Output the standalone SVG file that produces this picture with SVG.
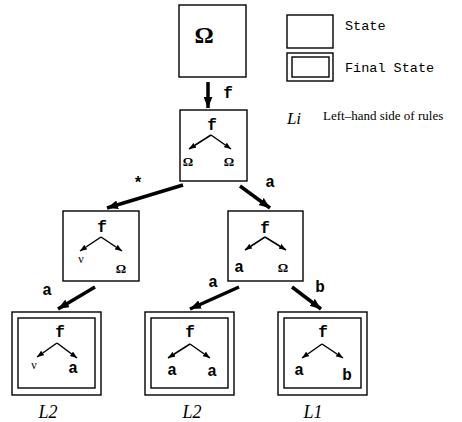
<svg xmlns="http://www.w3.org/2000/svg" width="462" height="422" viewBox="0 0 462 422">
  <style>
    .box { fill: #fff; stroke: #000; stroke-width: 1.4; }
    .sym { font-family: "Liberation Mono", "DejaVu Sans Mono", monospace; font-weight: bold; font-size: 16px; fill: #000; text-anchor: middle; }
    .om { font-family: "Liberation Serif", "DejaVu Serif", serif; font-weight: bold; font-size: 13px; fill: #000; text-anchor: middle; }
    .nu { font-family: "Liberation Serif", "DejaVu Serif", serif; font-size: 12px; fill: #000; text-anchor: middle; }
    .lab { font-family: "Liberation Serif", "DejaVu Serif", serif; font-style: italic; font-size: 18px; fill: #000; text-anchor: middle; }
    .leg { font-family: "Liberation Mono", "DejaVu Sans Mono", monospace; font-size: 13.5px; fill: #000; }
    .big { stroke: #000; stroke-width: 3.5; fill: none; marker-end: url(#head); }
    .thin { stroke: #000; stroke-width: 1.5; fill: none; marker-end: url(#tip); }
  </style>
  <defs>
    <marker id="head" viewBox="0 0 10 8" refX="10" refY="4" markerWidth="11" markerHeight="9" orient="auto" markerUnits="userSpaceOnUse">
      <path d="M0,0 L10,4 L0,8 z" fill="#000"/>
    </marker>
    <marker id="tip" viewBox="0 0 10 8" refX="10" refY="4" markerWidth="7" markerHeight="6" orient="auto" markerUnits="userSpaceOnUse">
      <path d="M0,0 L10,4 L0,8 z" fill="#000"/>
    </marker>
  </defs>

  <!-- legend -->
  <g id="legend">
    <rect class="box" x="287" y="15" width="46" height="33"/>
    <text class="leg" x="345" y="30">State</text>
    <rect class="box" x="287" y="53" width="46" height="28"/>
    <rect class="box" x="292" y="57" width="37" height="20"/>
    <text class="leg" x="345" y="72">Final State</text>
    <text class="lab" x="294" y="124" style="font-size:17px">Li</text>
    <text x="323" y="120" style="font-family:'Liberation Serif','DejaVu Serif',serif;font-size:13px">Left–hand side of rules</text>
  </g>

  <!-- root state -->
  <g id="n0">
    <rect class="box" x="179" y="5" width="67" height="72"/>
    <text x="204" y="43" style="font-family:'Liberation Serif','DejaVu Serif',serif;font-weight:bold;font-size:24px;text-anchor:middle">Ω</text>
  </g>

  <!-- f(Ω,Ω) -->
  <g id="n1">
    <rect class="box" x="180" y="110" width="67" height="71"/>
    <text class="sym" x="212" y="130">f</text>
    <path class="thin" d="M211,135 L189,149"/>
    <path class="thin" d="M211,135 L231,149"/>
    <text class="om" x="188" y="166">Ω</text>
    <text class="om" x="229" y="166">Ω</text>
  </g>

  <!-- f(ν,Ω) -->
  <g id="n2">
    <rect class="box" x="63" y="211" width="76" height="70"/>
    <text class="sym" x="102" y="232">f</text>
    <path class="thin" d="M101,237 L80,251"/>
    <path class="thin" d="M101,237 L122,251"/>
    <text class="nu" x="81" y="263">ν</text>
    <text class="om" x="121" y="273">Ω</text>
  </g>

  <!-- f(a,Ω) -->
  <g id="n3">
    <rect class="box" x="228" y="211" width="75" height="70"/>
    <text class="sym" x="265" y="233">f</text>
    <path class="thin" d="M265,237 L245,250"/>
    <path class="thin" d="M265,237 L286,250"/>
    <text class="sym" x="239" y="272">a</text>
    <text class="om" x="283" y="272">Ω</text>
  </g>

  <!-- final f(ν,a) -->
  <g id="n4">
    <rect class="box" x="12" y="312" width="89" height="83"/>
    <rect class="box" x="18" y="318" width="77" height="70"/>
    <text class="sym" x="60" y="337">f</text>
    <path class="thin" d="M57,343 L37,357"/>
    <path class="thin" d="M57,343 L77,358"/>
    <text class="nu" x="34" y="369">ν</text>
    <text class="sym" x="73" y="373">a</text>
    <text class="lab" x="48" y="418">L2</text>
  </g>

  <!-- final f(a,a) -->
  <g id="n5">
    <rect class="box" x="145" y="312" width="89" height="83"/>
    <rect class="box" x="151" y="318" width="77" height="70"/>
    <text class="sym" x="190" y="337">f</text>
    <path class="thin" d="M190,344 L168,358"/>
    <path class="thin" d="M190,344 L210,358"/>
    <text class="sym" x="172" y="375">a</text>
    <text class="sym" x="212" y="376">a</text>
    <text class="lab" x="192" y="418">L2</text>
  </g>

  <!-- final f(a,b) -->
  <g id="n6">
    <rect class="box" x="278" y="312" width="89" height="83"/>
    <rect class="box" x="284" y="318" width="77" height="70"/>
    <text class="sym" x="323" y="337">f</text>
    <path class="thin" d="M322,344 L302,358"/>
    <path class="thin" d="M322,344 L343,358"/>
    <text class="sym" x="299" y="375">a</text>
    <text class="sym" x="347" y="380">b</text>
    <text class="lab" x="313" y="418">L1</text>
  </g>

  <!-- transitions -->
  <g id="edges">
    <path class="big" d="M208,82 L208,108"/>
    <text class="sym" x="228" y="98">f</text>
    <path class="big" d="M183,185 L107,208"/>
    <text x="138" y="188" style="font-family:'Liberation Mono','DejaVu Sans Mono',monospace;font-weight:bold;font-size:16px;text-anchor:middle">*</text>
    <path class="big" d="M240,186 L270,208"/>
    <text class="sym" x="270" y="187">a</text>
    <path class="big" d="M95,287 L58,309"/>
    <text class="sym" x="47" y="295">a</text>
    <path class="big" d="M239,287 L190,309"/>
    <text class="sym" x="213" y="287">a</text>
    <path class="big" d="M292,287 L321,309"/>
    <text class="sym" x="320" y="292">b</text>
  </g>
</svg>
